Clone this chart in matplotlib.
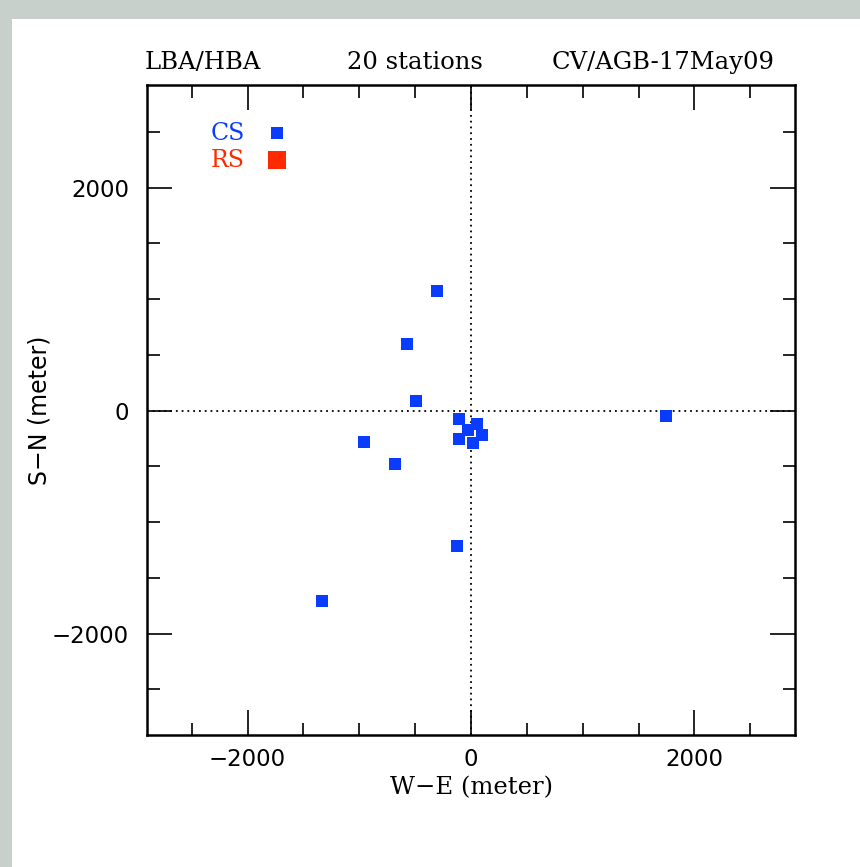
import matplotlib
matplotlib.use('Agg')
import matplotlib.pyplot as plt
from matplotlib.patches import Rectangle

# station positions (meter)
we = [-300, -575, -495, -955, -680, -105, -110, 50, -30, 95, 15, -125, -1330, 1745]
sn = [1070, 595, 85, -285, -475, -80, -255, -125, -175, -215, -295, -1215, -1710, -50]

xlim = (-2900, 2900)
ylim = (-2910, 2920)
major = [-2000, 0, 2000]
minor = [-2500, -1500, -1000, -500, 500, 1000, 1500, 2500]
ticklabels = ['\u22122000', '0', '2000']

blue = '#0a3cff'
red = '#ff2a00'
serif = 'DejaVu Serif'
sans = 'DejaVu Sans'

fig = plt.figure(figsize=(8.6, 8.67), dpi=100)
fig.patch.set_facecolor('#c8d0cc')
bg = Rectangle((12 / 860, 0), 1, 1 - 19 / 867, transform=fig.transFigure,
               facecolor='white', edgecolor='none', zorder=-10)
fig.add_artist(bg)

ax = fig.add_axes([147 / 860, 1 - 735 / 867, 648 / 860, 650 / 867])
ax.set_zorder(5)
ax.set_facecolor('white')

ax.axhline(0, color='black', linestyle=(0, (1, 2.2)), linewidth=1.3, zorder=1)
ax.axvline(0, color='black', linestyle=(0, (1, 2.2)), linewidth=1.3, zorder=1)

ax.plot(we, sn, 's', color=blue, markersize=8, markeredgewidth=0, zorder=3)

ax.set_xlim(xlim)
ax.set_ylim(ylim)
ax.set_xticks(major)
ax.set_yticks(major)
ax.set_xticks(minor, minor=True)
ax.set_yticks(minor, minor=True)
ax.set_xticklabels(ticklabels, fontfamily=sans, fontsize=16.5)
ax.set_yticklabels(ticklabels, fontfamily=sans, fontsize=16.5)
ax.tick_params(which='both', direction='in', top=True, right=True, width=1.2)
ax.tick_params(which='major', length=18)
ax.tick_params(axis='x', which='major', pad=9)
ax.tick_params(axis='y', which='major', pad=13)
ax.tick_params(which='minor', length=9)
for s in ax.spines.values():
    s.set_linewidth(1.8)

ax.set_xlabel('W\u2212E (meter)', fontfamily=serif, fontsize=17.5, labelpad=4)
ax.set_ylabel('S\u2212N (meter)', fontfamily=sans, fontsize=17)
ax.yaxis.set_label_coords((51 - 147) / 648, 0.5)

# legend
ax.text(0.125, 0.926, 'CS', color=blue, fontfamily=serif, fontsize=17,
        transform=ax.transAxes, ha='center', va='center')
ax.text(0.125, 0.8846, 'RS', color=red, fontfamily=serif, fontsize=17,
        transform=ax.transAxes, ha='center', va='center')
ax.plot([0.2006], [0.926], 's', color=blue, markersize=8, markeredgewidth=0,
        transform=ax.transAxes, clip_on=False)
ax.plot([0.2006], [0.8846], 's', color=red, markersize=13, markeredgewidth=0,
        transform=ax.transAxes, clip_on=False)

# header
ax.text((203 - 147) / 648, 1.035, 'LBA/HBA', fontfamily=serif, fontsize=17.5,
        transform=ax.transAxes, ha='center', va='center')
ax.text((415 - 147) / 648, 1.035, '20 stations', fontfamily=serif, fontsize=17.5,
        transform=ax.transAxes, ha='center', va='center')
ax.text((663 - 147) / 648, 1.035, 'CV/AGB-17May09', fontfamily=serif, fontsize=17.5,
        transform=ax.transAxes, ha='center', va='center')

fig.savefig('out.png', dpi=100, facecolor=fig.get_facecolor())
